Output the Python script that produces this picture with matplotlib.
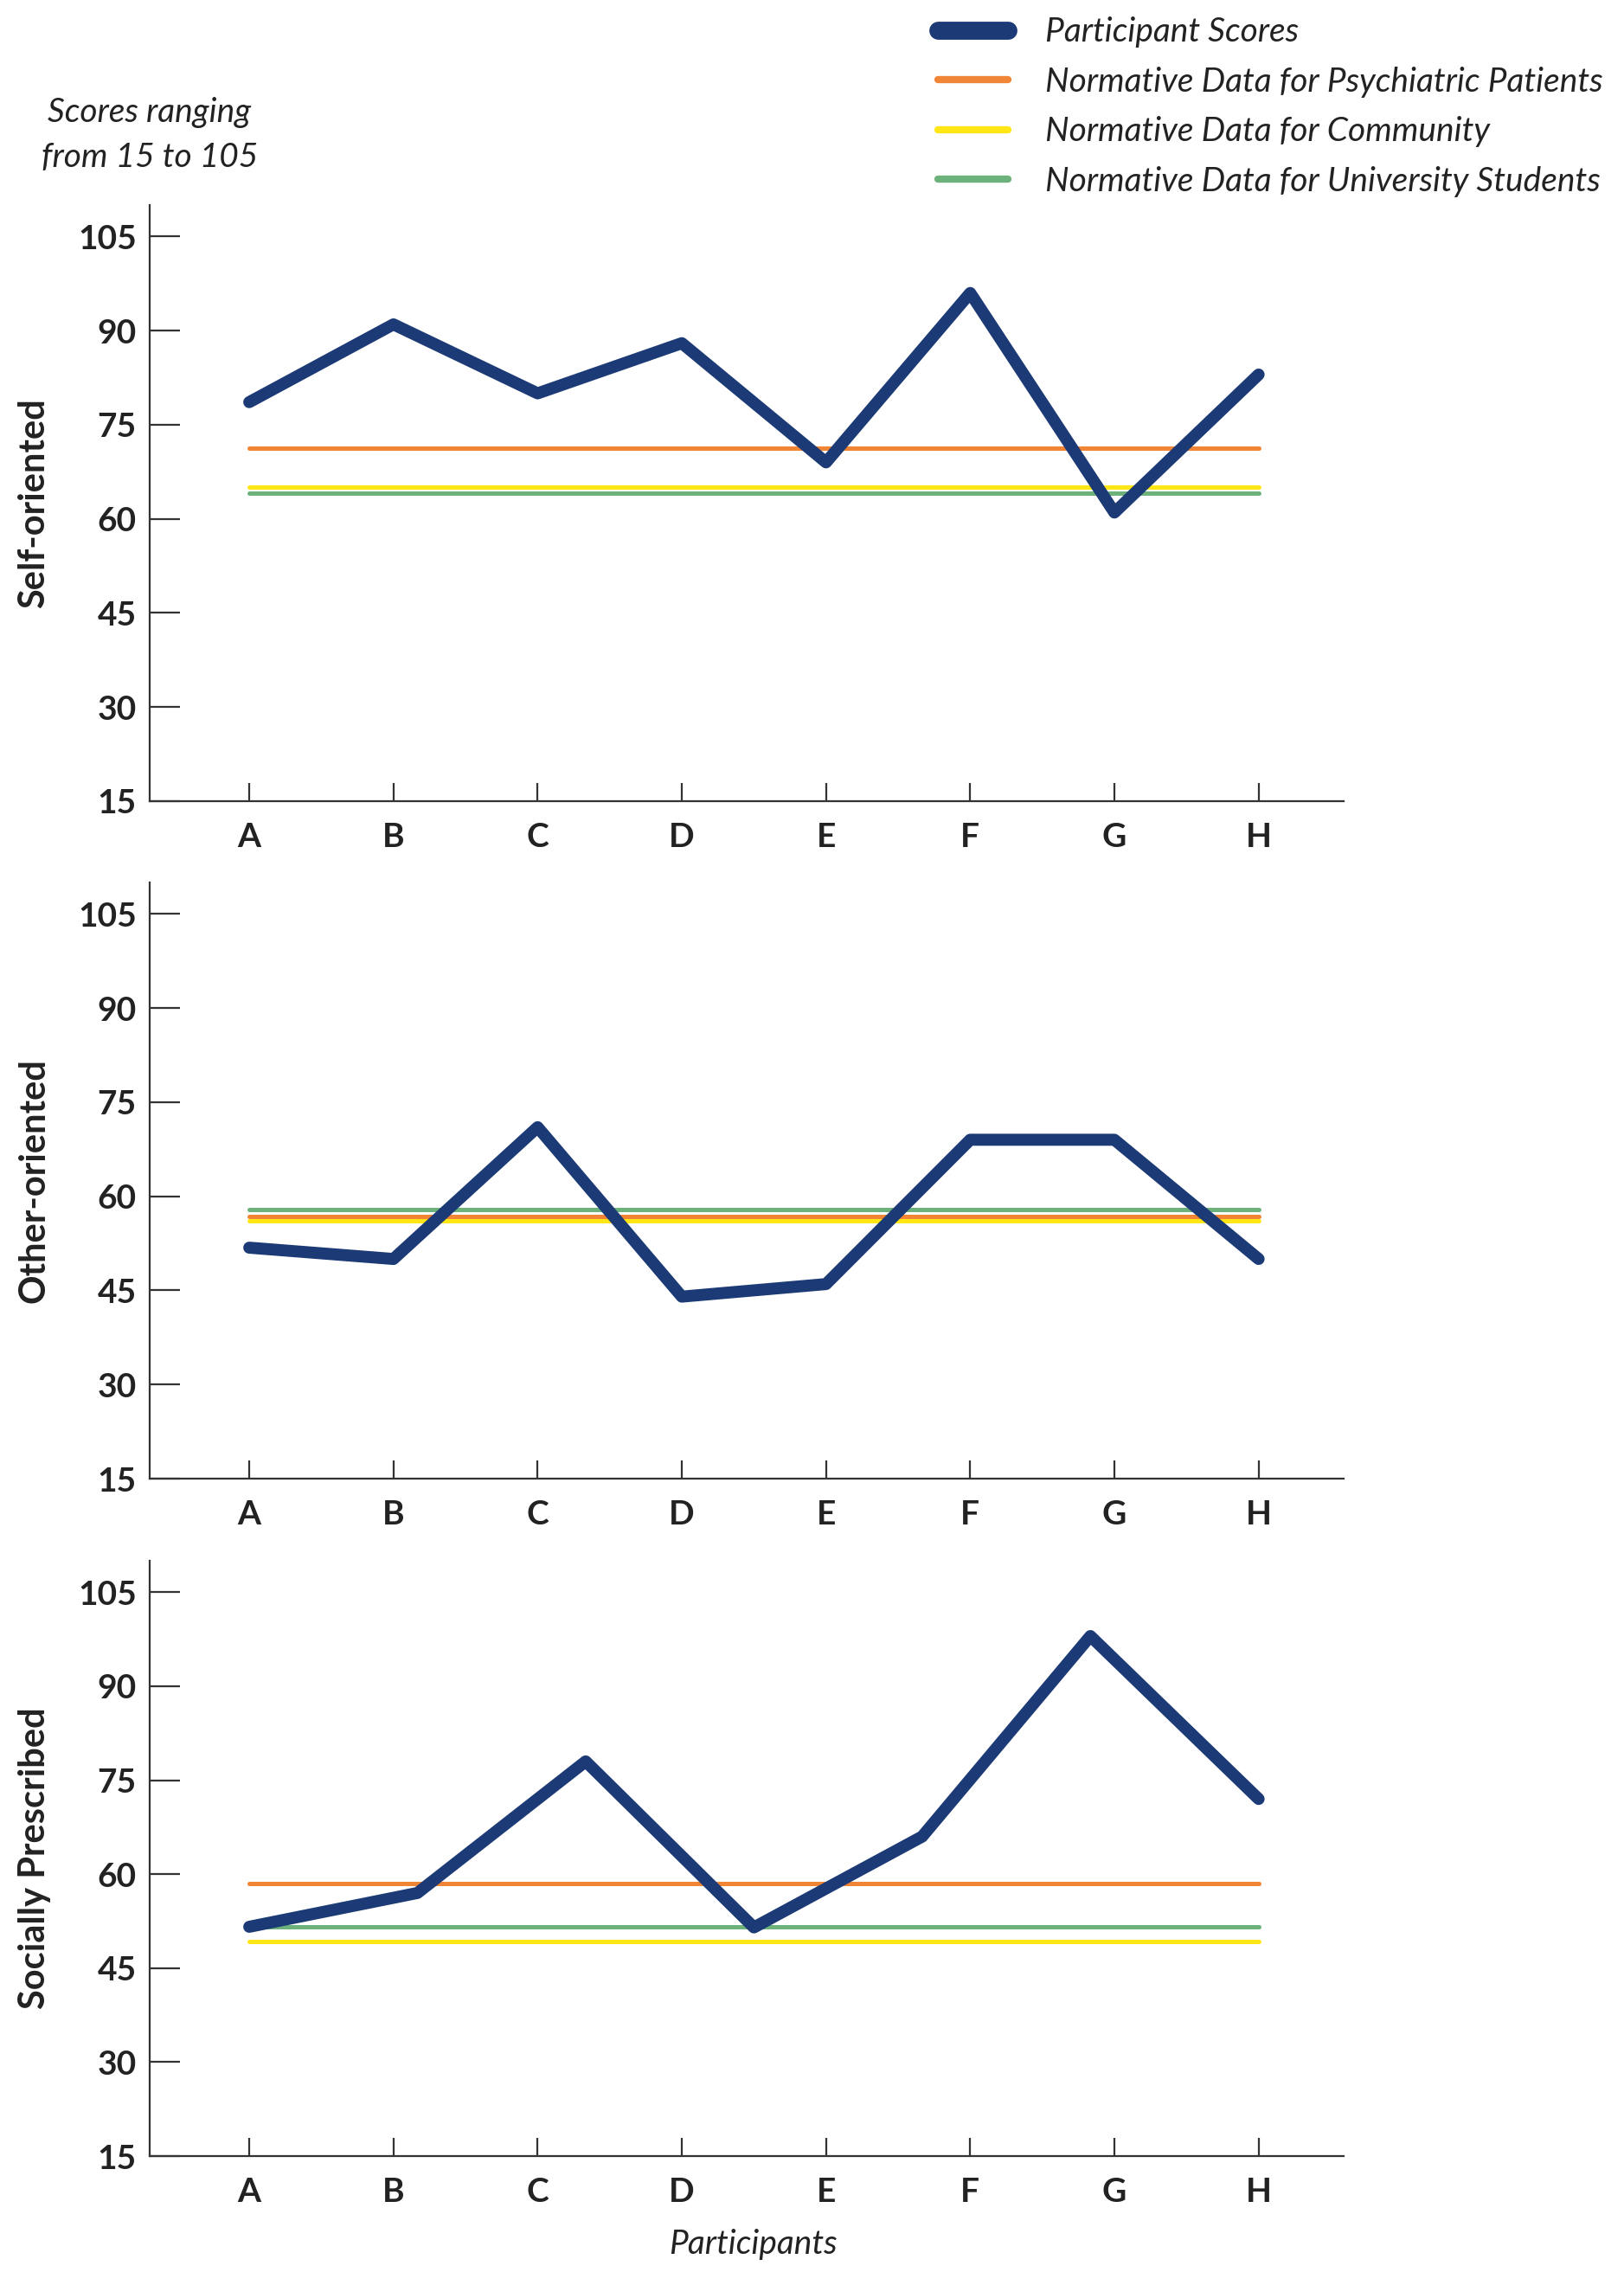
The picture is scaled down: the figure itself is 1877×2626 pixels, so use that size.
import numpy as np
import matplotlib.pyplot as plt
from matplotlib.lines import Line2D

# participants on the x axis
participants = ['A', 'B', 'C', 'D', 'E', 'F', 'G', 'H']
y_ticks = [15, 30, 45, 60, 75, 90, 105]

# participant scores for each subscale
self_scores = [78.6, 91, 80, 88, 69, 96, 61, 83]
other_scores = [51.8, 50, 71, 44, 46, 69, 69, 50]
# the socially prescribed line only has 7 points spread over A..H
social_scores = [51.6, 57, 78, 51.5, 66, 98, 72]

# normative data: psychiatric patients, community, university students
self_norms = [71.2, 65, 64.1]
other_norms = [56.75, 56.1, 57.9]
social_norms = [58.55, 49.25, 51.6]

panel_names = ['Self-oriented', 'Other-oriented', 'Socially Prescribed']
norm_labels = ['Normative Data for Psychiatric Patients',
               'Normative Data for Community',
               'Normative Data for University Students']

navy = '#1c3a75'
norm_colors = ['#f08536', '#ffe614', '#6cb27a']
dark = '#333333'
text_col = '#222222'

plt.rcParams['font.family'] = ['Lato', 'DejaVu Sans']

fig = plt.figure(figsize=(18.77, 26.26), dpi=100)

# axes boxes in figure fractions [left, bottom, width, height]
boxes = [[0.0922, 0.6474, 0.7352, 0.2623],
         [0.0922, 0.3492, 0.7352, 0.2624],
         [0.0922, 0.0510, 0.7352, 0.2620]]

all_scores = [self_scores, other_scores, social_scores]
all_norms = [self_norms, other_norms, social_norms]

for box, name, scores, norms in zip(boxes, panel_names, all_scores, all_norms):
    ax = fig.add_axes(box)
    cats = np.arange(len(participants))
    # spread the points evenly across the participant span
    xs = np.linspace(cats[0], cats[-1], len(scores))

    for val, col in zip(norms, norm_colors):
        ax.plot([cats[0], cats[-1]], [val, val], color=col, lw=3.6,
                solid_capstyle='round', zorder=2)
    ax.plot(xs, scores, color=navy, lw=10, solid_capstyle='round',
            solid_joinstyle='round', zorder=3)

    ax.set_xlim(-0.69, 7.59)
    ax.set_ylim(15, 110)
    ax.set_xticks(cats)
    ax.set_xticklabels(participants)
    ax.set_yticks(y_ticks)
    for s in ['top', 'right']:
        ax.spines[s].set_visible(False)
    for s in ['left', 'bottom']:
        ax.spines[s].set_linewidth(1.6)
        ax.spines[s].set_color(dark)
    ax.tick_params(axis='y', direction='in', length=25, width=1.6, color=dark,
                   pad=11, labelsize=28, labelcolor=text_col)
    ax.tick_params(axis='x', direction='in', length=15, width=1.6, color=dark,
                   pad=17, labelsize=28, labelcolor=text_col)
    for lab in ax.get_xticklabels() + ax.get_yticklabels():
        lab.set_fontweight('bold')
    ax.set_ylabel(name, fontsize=30, fontweight='bold', color=text_col)
    ax.yaxis.set_label_coords(-0.083, 0.5)

ax.set_xlabel('Participants', fontsize=28, style='italic', color=text_col)
ax.xaxis.set_label_coords(0.505, -0.122)

fig.text(0.092, 0.9405, 'Scores ranging\nfrom 15 to 105', ha='center', va='center',
         fontsize=28, style='italic', color=text_col, linespacing=1.55)

handles = [Line2D([], [], color=navy, lw=15, solid_capstyle='round')]
handles += [Line2D([], [], color=c, lw=6, solid_capstyle='round') for c in norm_colors]
labels = ['Participant Scores'] + norm_labels
leg = fig.legend(handles, labels, loc='upper left', bbox_to_anchor=(0.567, 1.0),
                 frameon=False, prop={'size': 28, 'style': 'italic'},
                 handlelength=2.1, handletextpad=1.1, labelspacing=0.55,
                 borderpad=0.0)
for t in leg.get_texts():
    t.set_color(text_col)

fig.savefig('out.png', dpi=100)
